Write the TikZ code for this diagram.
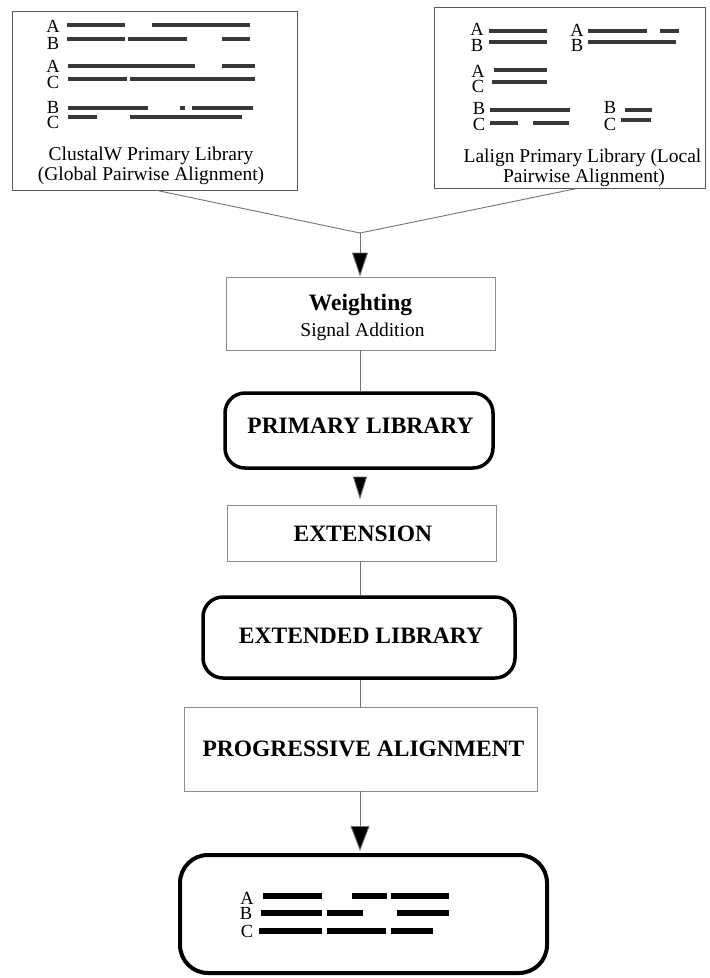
\documentclass[tikz,border=0pt]{standalone}
\usepackage{fontspec}
\setmainfont{Liberation Serif}
\usetikzlibrary{arrows.meta}
\definecolor{linegray}{gray}{0.45}
\definecolor{boxgray}{gray}{0.55}
\definecolor{framegray}{gray}{0.35}
\definecolor{bargray}{gray}{0.22}
\begin{document}
\begin{tikzpicture}[x=1pt,y=-1pt,
  libbox/.style={draw=framegray, line width=0.9pt, inner sep=0pt},
  thinbox/.style={draw=boxgray, line width=0.9pt, inner sep=0pt},
  thickbox/.style={draw=black, line width=3.5pt, rounded corners=20pt, inner sep=0pt},
  conn/.style={draw=linegray, line width=0.9pt},
  bigtip/.style={-{Triangle[length=24pt,width=16pt]}},
  title/.style={anchor=base, inner sep=0pt, font=\fontsize{23.5}{28}\selectfont\bfseries},
  label/.style={anchor=base, inner sep=0pt, font=\fontsize{19.5}{23}\selectfont},
  seq/.style={anchor=base, inner sep=0pt, font=\fontsize{18.5}{22}\selectfont},
  bar/.style={draw=bargray, line width=4pt},
  fbar/.style={draw=black, line width=5.5pt}
]
\useasboundingbox (0,0) rectangle (710,978);

% ---- top-left library box
\node[libbox, minimum width=285pt, minimum height=179pt] (lbox) at (154.5,100.5) {};
\node[seq] (la1) at (53,32) {A};
\node[seq] (lb1) at (53,49) {B};
\node[seq] (la2) at (53,72) {A};
\node[seq] (lc2) at (53,88) {C};
\node[seq] (lb3) at (53,113) {B};
\node[seq] (lc3) at (53,128) {C};
\draw[bar] (67,25) -- (125,25);  \draw[bar] (152,25) -- (250,25);
\draw[bar] (67,39) -- (125,39);  \draw[bar] (128,39) -- (187,39); \draw[bar] (222,39) -- (250,39);
\draw[bar] (68,66) -- (195,66);  \draw[bar] (222,66) -- (255,66);
\draw[bar] (68,79) -- (127,79);  \draw[bar] (130,79) -- (255,79);
\draw[bar] (68,108) -- (148,108); \draw[bar] (180,108) -- (185,108); \draw[bar] (192,108) -- (253,108);
\draw[bar] (68,117) -- (97,117);  \draw[bar] (130,117) -- (242,117);
\node[label] (ltxt1) at (151,160) {ClustalW Primary Library};
\node[label] (ltxt2) at (151,180) {(Global Pairwise Alignment)};

% ---- top-right library box
\node[libbox, minimum width=271pt, minimum height=181pt] (rbox) at (569.5,97.5) {};
\node[seq] (ra1) at (477,35) {A};
\node[seq] (rb1) at (477,51) {B};
\node[seq] (ra1b) at (577,36) {A};
\node[seq] (rb1b) at (577,51) {B};
\node[seq] (ra2) at (478,77) {A};
\node[seq] (rc2) at (478,92) {C};
\node[seq] (rb3) at (479,114) {B};
\node[seq] (rc3) at (479,130) {C};
\node[seq] (rb3b) at (610,113) {B};
\node[seq] (rc3b) at (610,130) {C};
\draw[bar] (489,31) -- (547,31);
\draw[bar] (489,42) -- (547,42);
\draw[bar] (588,31) -- (647,31); \draw[bar] (660,31) -- (679,31);
\draw[bar] (588,42) -- (676,42);
\draw[bar] (494,70) -- (547,70);
\draw[bar] (492,82) -- (547,82);
\draw[bar] (490,110) -- (570,110);
\draw[bar] (490,123) -- (518,123); \draw[bar] (533,123) -- (569,123);
\draw[bar] (625,110) -- (652,110);
\draw[bar] (621,120) -- (651,120);
\node[label] (rtxt1) at (582.5,162) {Lalign Primary Library (Local};
\node[label] (rtxt2) at (584,182) {Pairwise Alignment)};

% ---- flow boxes
\coordinate (join) at (360,233);
\node[thinbox, minimum width=269pt, minimum height=73pt] (weight) at (360.5,313.5) {};
\node[title] (wtxt) at (360.5,310) {Weighting};
\node[label] (stxt) at (362.5,336) {Signal Addition};

\node[thickbox, minimum width=268pt, minimum height=75pt] (primary) at (359,430.5) {};
\node[title] (ptxt) at (360.5,433) {PRIMARY LIBRARY};

\node[thinbox, minimum width=269pt, minimum height=56pt] (ext) at (361.5,533) {};
\node[title] (etxt) at (362.8,541) {EXTENSION};

\node[thickbox, minimum width=312pt, minimum height=81pt] (extlib) at (359,637.5) {};
\node[title] (eltxt) at (361,643) {EXTENDED LIBRARY};

\node[thinbox, minimum width=353pt, minimum height=84pt] (prog) at (360.5,749) {};
\node[title] (prtxt) at (363.5,756) {PROGRESSIVE ALIGNMENT};

\node[thickbox, rounded corners=28pt, line width=4pt, minimum width=367pt, minimum height=118pt] (final) at (363.5,914) {};
\node[seq] (fa) at (247,904) {A};
\node[seq] (fb) at (246,919) {B};
\node[seq] (fc) at (247,937) {C};
\draw[fbar] (263,896) -- (322,896); \draw[fbar] (352,896) -- (387,896); \draw[fbar] (391,896) -- (449,896);
\draw[fbar] (261,913) -- (322,913); \draw[fbar] (327,913) -- (363,913); \draw[fbar] (397,913) -- (449,913);
\draw[fbar] (259,931) -- (322,931); \draw[fbar] (327,931) -- (386,931); \draw[fbar] (391,931) -- (433,931);

% ---- connectors
\draw[conn] ([xshift=2.5pt]lbox.south) -- (join);
\draw[conn] ([xshift=7.5pt]rbox.south) -- (join);
\draw[conn, bigtip, -{Triangle[length=24pt,width=16pt,fill=black]}, draw=linegray] (join) -- (join |- weight.north);
\draw[conn] (join |- weight.south) -- (join |- primary.north);
\draw[conn, -{Triangle[length=23pt,width=14pt,fill=black]}, shorten <=9pt, shorten >=5pt] (join |- primary.south) -- (join |- ext.north);
\draw[conn] ([xshift=0pt]join |- ext.south) -- (join |- extlib.north);
\draw[conn] (join |- extlib.south) -- (join |- prog.north);
\draw[conn, -{Triangle[length=25pt,width=19pt,fill=black]}, shorten >=2pt] (join |- prog.south) -- (join |- final.north);
\end{tikzpicture}
\end{document}
